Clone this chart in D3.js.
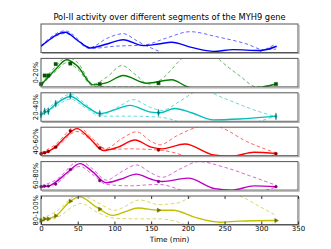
<!DOCTYPE html>
<html>
<head>
<meta charset="utf-8">
<script src="https://cdn.jsdelivr.net/npm/d3@7/dist/d3.min.js"></script>
<style>
  body { margin: 0; background: #fff; }
  text { font-family: "DejaVu Sans", sans-serif; }
</style>
</head>
<body>
<svg id="chart" width="331" height="249"></svg>
<script>
// segment labels (top panel = whole gene, no label)
const segments = ["", "0-20%", "20-40%", "40-60%", "60-80%", "80-100%"];
const lineColors = ["#0000ff", "#008000", "#00bfbf", "#ff0000", "#bf00bf", "#bfbf00"];
const markColors = ["#0000aa", "#005500", "#007777", "#880000", "#770077", "#6f6f00"];
const xTicks = [0, 50, 100, 150, 200, 250, 300, 350];
const sampleTimes = [0, 5, 10, 20, 40, 80, 160, 320];

// [time, relative level]
const fitAll = [[0,0.22],[10,0.42],[20,0.6],[33,0.71],[50,0.42],[67,0.16],[90,0.3],[112,0.45],[139,0.24],[160,0.3],[178,0.36],[205,0.18],[235,0.04],[262,0.1],[298,0.07],[321,0.22]];
const upAll = [[0,0.24],[33,0.76],[67,0.18],[90,0.5],[112,0.66],[130,0.42],[140,0.28],[160,0.05],[185,-0.2],[220,-0.4],[270,-0.2],[300,0.05],[320,0.3]];
const lowAll = [[0,0.2],[33,0.67],[67,0.14],[100,0.22],[140,0.26],[170,0.5],[203,0.73],[240,0.55],[280,0.3],[303,0.1],[320,0.12]];

const fit1 = [[0,0.07],[10,0.35],[20,0.62],[35,0.95],[50,0.72],[71,0.07],[90,0.15],[112,0.4],[144,0.13],[178,0.25],[200,0.0],[230,-0.1],[270,-0.1],[300,-0.02],[320,0.1]];
const up1 = [[0,0.1],[20,0.72],[35,1.05],[50,0.85],[71,0.1],[90,0.35],[110,0.75],[130,0.4],[146,0.1],[160,0.2],[190,0.95],[218,1.6],[241,1.0],[270,0.4],[294,0.0],[320,0.1]];
const low1 = [[0,0.05],[20,0.55],[35,0.85],[50,0.62],[71,0.03],[100,0.0],[150,0.0],[200,-0.02],[250,-0.03],[300,0.0],[320,0.1]];
const obs1 = [0.1, 0.4, 0.4, 0.8, 0.82, 0.1, 0.13, 0.1];

const fit2 = [[0,0.24],[10,0.38],[20,0.6],[40,0.87],[60,0.55],[80,0.27],[100,0.4],[121,0.56],[150,0.32],[162,0.3],[182,0.45],[205,0.3],[235,0.05],[270,0.08],[320,0.18]];
const up2 = [[0,0.26],[20,0.66],[40,0.95],[60,0.62],[82,0.22],[105,0.5],[126,0.76],[148,0.5],[165,0.38],[190,0.72],[218,1.1],[250,0.8],[290,0.4],[320,0.16]];
const low2 = [[0,0.2],[20,0.52],[40,0.78],[60,0.48],[82,0.18],[120,0.18],[160,0.15],[180,0.05],[195,-0.1],[230,-0.3],[280,-0.1],[310,0.1],[320,0.2]];
const obs2 = [0.24, 0.35, 0.35, 0.62, 0.9, 0.27, 0.3, 0.17];

const fit3 = [[0,0.07],[10,0.15],[20,0.32],[35,0.7],[49,0.95],[65,0.65],[85,0.18],[105,0.3],[128,0.55],[150,0.3],[165,0.24],[196,0.41],[235,0.03],[260,-0.02],[290,0.12],[320,0.08]];
const up3 = [[0,0.1],[20,0.4],[49,1.05],[70,0.6],[88,0.25],[110,0.6],[130,0.84],[150,0.5],[162,0.38],[185,0.7],[212,1.0],[228,1.1],[244,1.0],[280,0.5],[320,0.1]];
const low3 = [[0,0.04],[20,0.28],[49,0.85],[70,0.5],[90,0.22],[120,0.24],[160,0.2],[185,0.08],[200,-0.05],[250,-0.3],[300,-0.1],[320,0.05]];
const obs3 = [0.07, 0.1, 0.15, 0.3, 0.87, 0.27, 0.2, 0.07];

const fit4 = [[0,0.12],[10,0.14],[20,0.28],[35,0.6],[53,0.93],[70,0.65],[89,0.26],[108,0.38],[130,0.56],[150,0.38],[165,0.3],[200,0.42],[237,0.05],[260,0.0],[290,0.15],[320,0.12]];
const up4 = [[0,0.15],[20,0.35],[53,1.03],[70,0.75],[89,0.35],[110,0.65],[130,0.88],[150,0.6],[165,0.45],[190,0.75],[215,1.0],[250,0.8],[290,0.45],[320,0.17]];
const low4 = [[0,0.08],[20,0.22],[53,0.83],[70,0.55],[89,0.2],[120,0.15],[160,0.2],[185,0.05],[200,-0.1],[250,-0.3],[300,-0.05],[320,0.1]];
const obs4 = [0.12, 0.14, 0.14, 0.21, 0.72, 0.33, 0.3, 0.12];

const fit5 = [[0,0.14],[10,0.2],[20,0.3],[40,0.82],[53,0.97],[75,0.62],[98,0.32],[115,0.45],[132,0.58],[160,0.5],[180,0.5],[210,0.25],[244,0.08],[270,0.12],[320,0.14]];
const up5 = [[0,0.2],[20,0.45],[52,1.05],[75,0.8],[100,0.5],[135,0.86],[160,0.7],[185,0.75],[207,1.0],[240,1.2],[271,1.0],[300,0.6],[320,0.32]];
const low5 = [[0,0.08],[20,0.22],[55,0.74],[75,0.45],[100,0.22],[130,0.2],[160,0.2],[185,0.1],[200,-0.05],[250,-0.3],[300,-0.1],[320,0.05]];
const obs5 = [0.14, 0.2, 0.2, 0.3, 0.82, 0.54, 0.5, 0.14];

const fits = [fitAll, fit1, fit2, fit3, fit4, fit5];
const uppers = [upAll, up1, up2, up3, up4, up5];
const lowers = [lowAll, low1, low2, low3, low4, low5];
const observed = [null, obs1, obs2, obs3, obs4, obs5];

const svg = d3.select("#chart");
const left = 41, right = 298, top0 = 24, step = 34.4, panelH = 28.5;

const x = d3.scaleLinear().domain([0, 350]).range([left, right]);

svg.append("text")
    .attr("x", (left + right) / 2).attr("y", 19.5)
    .attr("text-anchor", "middle").attr("font-size", "8.3px")
    .text("Pol-II activity over different segments of the MYH9 gene");

// marker shapes per panel
const shapes = [null, d3.symbolSquare, d3.symbolDiamond, d3.symbolCircle, d3.symbolCircle, d3.symbolTriangle];
const sizes = [0, 11, 9, 7, 6, 8];

segments.forEach((seg, i) => {
    let top = top0 + i * step, bottom = top + panelH;
    let y = d3.scaleLinear().domain([0, 1]).range([bottom, top]);
    let g = svg.append("g");

    svg.append("clipPath").attr("id", "clip" + i)
        .append("rect").attr("x", left).attr("y", top).attr("width", right - left).attr("height", panelH);

    let line = d3.line()
        .x(d => x(d[0]))
        .y(d => y(d[1]))
        .curve(d3.curveMonotoneX);

    let plot = g.append("g").attr("clip-path", "url(#clip" + i + ")");

    [uppers[i], lowers[i]].forEach(band => {
        plot.append("path").attr("d", line(band))
            .attr("fill", "none").attr("stroke", lineColors[i])
            .attr("stroke-opacity", 0.6).attr("stroke-width", 1)
            .attr("stroke-dasharray", "3.5,2.5");
    });
    plot.append("path").attr("d", line(fits[i]))
        .attr("fill", "none").attr("stroke", lineColors[i])
        .attr("stroke-width", 1.4);

    if (observed[i]) {
        let sym = d3.symbol().type(shapes[i]).size(sizes[i]);
        g.selectAll(".mk")
            .data(observed[i].map((v, k) => [sampleTimes[k], v]))
            .enter().append("path")
            .attr("d", sym)
            .attr("transform", d => {
                let t = "translate(" + x(d[0]) + "," + y(d[1]) + ")";
                if (i === 5) t += " rotate(90)";
                if (i === 2) t += " scale(0.6,1.3)";
                return t;
            })
            .attr("fill", markColors[i])
            .attr("stroke", markColors[i]).attr("stroke-width", 0.4);
    }

    // frame
    g.append("rect").attr("x", left).attr("y", top)
        .attr("width", right - left).attr("height", panelH)
        .attr("fill", "none").attr("stroke", "#555").attr("stroke-width", 1);
    g.append("path")
        .attr("d", "M" + (right + 1) + "," + (top + 1) + "V" + (bottom + 1) + "H" + (left + 1))
        .attr("fill", "none").attr("stroke", "#aaa").attr("stroke-width", 1.2);

    if (seg) {
        g.append("text")
            .attr("transform", "translate(37.5," + (top + panelH / 2) + ") rotate(-90)")
            .attr("text-anchor", "middle").attr("font-size", "6.8px")
            .text(seg);
    }

    if (i === segments.length - 1) {
        let ax = g.append("g").attr("transform", "translate(0," + bottom + ")")
            .call(d3.axisBottom(x).tickValues(xTicks).tickSize(-3).tickPadding(1.5).tickFormat(d3.format("d")));
        ax.select(".domain").remove();
        ax.selectAll("text").attr("font-size", "7px").attr("font-family", "DejaVu Sans");
        ax.selectAll("line").attr("stroke", "#333");
        g.append("g").attr("transform", "translate(0," + top + ")")
            .call(d3.axisTop(x).tickValues(xTicks).tickSize(-3).tickFormat(""))
            .call(a => a.select(".domain").remove())
            .selectAll("line").attr("stroke", "#333");
        g.append("text")
            .attr("x", (left + right) / 2).attr("y", 241.5)
            .attr("text-anchor", "middle").attr("font-size", "7.3px")
            .text("Time (min)");
    }
});
</script>
</body>
</html>
